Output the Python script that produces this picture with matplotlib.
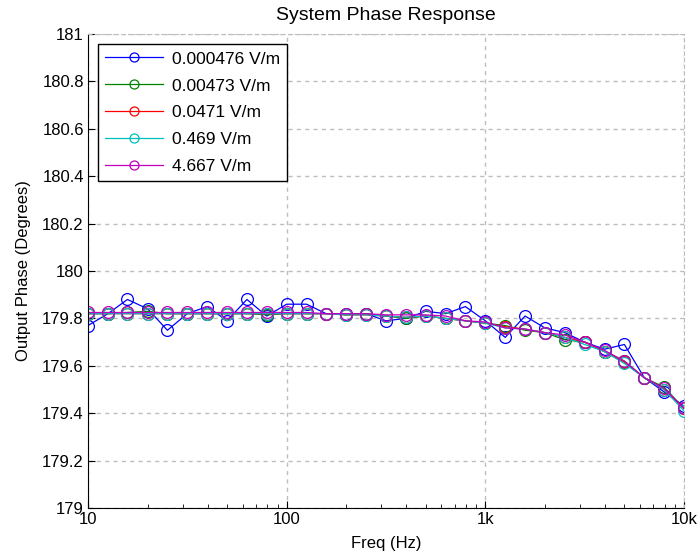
import numpy as np
import matplotlib.pyplot as plt
from matplotlib.ticker import FixedLocator, LogLocator, NullFormatter

plt.rcParams['font.family'] = ['Liberation Sans', 'DejaVu Sans']

# 10 points per decade, 10 Hz .. 10 kHz
freq = [10, 12.6, 15.8, 20, 25.1, 31.6, 39.8, 50.1, 63.1, 79.4,
        100, 126, 158, 200, 251, 316, 398, 501, 631, 794,
        1000, 1259, 1585, 1995, 2512, 3162, 3981, 5012, 6310, 7943, 10000]

ph_1 = [179.77, 179.82, 179.88, 179.84, 179.75, 179.82, 179.85, 179.79, 179.88, 179.81,
        179.86, 179.86, 179.82, 179.82, 179.82, 179.79, 179.80, 179.83, 179.82, 179.85,
        179.79, 179.72, 179.81, 179.76, 179.74, 179.70, 179.67, 179.69, 179.55, 179.49, 179.43]
ph_2 = [179.82, 179.82, 179.825, 179.83, 179.82, 179.82, 179.82, 179.82, 179.82, 179.815,
        179.82, 179.82, 179.82, 179.815, 179.82, 179.81, 179.80, 179.81, 179.80, 179.79,
        179.78, 179.77, 179.75, 179.74, 179.71, 179.70, 179.66, 179.62, 179.55, 179.51, 179.42]
ph_3 = [179.82, 179.82, 179.82, 179.82, 179.82, 179.82, 179.82, 179.82, 179.82, 179.82,
        179.82, 179.82, 179.82, 179.815, 179.815, 179.81, 179.805, 179.81, 179.80, 179.79,
        179.78, 179.765, 179.755, 179.74, 179.72, 179.70, 179.66, 179.615, 179.55, 179.50, 179.42]
ph_4 = [179.82, 179.82, 179.82, 179.82, 179.82, 179.82, 179.82, 179.82, 179.82, 179.82,
        179.82, 179.82, 179.82, 179.815, 179.815, 179.81, 179.805, 179.81, 179.80, 179.79,
        179.78, 179.76, 179.755, 179.74, 179.72, 179.69, 179.66, 179.61, 179.55, 179.50, 179.41]
ph_5 = [179.825, 179.825, 179.825, 179.825, 179.825, 179.825, 179.825, 179.825, 179.825, 179.825,
        179.825, 179.825, 179.82, 179.82, 179.82, 179.815, 179.815, 179.815, 179.81, 179.79,
        179.785, 179.76, 179.755, 179.74, 179.73, 179.70, 179.665, 179.62, 179.55, 179.505, 179.42]

labels = ['0.000476 V/m', '0.00473 V/m', '0.0471 V/m', '0.469 V/m', '4.667 V/m']
colors = ['#0000ff', '#008000', '#ff0000', '#00bfbf', '#bf00bf']
series = [ph_1, ph_2, ph_3, ph_4, ph_5]

yticks = np.round(np.arange(179, 181.01, 0.2), 1)
ytick_labels = ['%g' % v for v in yticks]
xticks = [10, 100, 1000, 10000]
xtick_labels = ['10', '100', '1k', '10k']

fig = plt.figure(figsize=(6.99, 5.58), dpi=100)
ax = fig.add_axes([0.1259, 0.0896, 0.8526, 0.8494])

for ph, lab, c in zip(series, labels, colors):
    ax.plot(freq, ph, color=c, lw=0.9, marker='o', ms=8.5, mfc='none', mec=c, mew=0.9, label=lab)

ax.set_xscale('log')
ax.set_xlim(10, 10000)
ax.set_ylim(179, 181)
ax.xaxis.set_major_locator(FixedLocator(xticks))
ax.set_xticklabels(xtick_labels)
ax.xaxis.set_minor_locator(LogLocator(base=10, subs=np.arange(2, 10)))
ax.xaxis.set_minor_formatter(NullFormatter())
ax.set_yticks(yticks)
ax.set_yticklabels(ytick_labels)

ax.tick_params(which='both', direction='in', labelsize=12, top=False, right=False)
ax.tick_params(which='major', length=5, pad=3)
ax.tick_params(which='minor', length=3)
ax.grid(True, which='major', ls=(0, (3, 3)), color='#bdbdbd', lw=1)
for s in ['top', 'right']:
    ax.spines[s].set_linestyle((0, (3, 3)))
    ax.spines[s].set_color('#bdbdbd')

ax.set_xlabel('Freq (Hz)', fontsize=12, labelpad=6)
ax.set_ylabel('Output Phase (Degrees)', fontsize=12, labelpad=8)
ax.set_title('System Phase Response', fontsize=14, pad=10)

leg = ax.legend(loc='upper left', fontsize=12.5, fancybox=False, framealpha=1,
                edgecolor='black', handlelength=3.3, labelspacing=0.68,
                borderaxespad=0.6, handletextpad=0.55)
leg.get_frame().set_linewidth(1)
for h in leg.legend_handles:
    h.set_markersize(6.5)

fig.savefig('out.png', dpi=100)
